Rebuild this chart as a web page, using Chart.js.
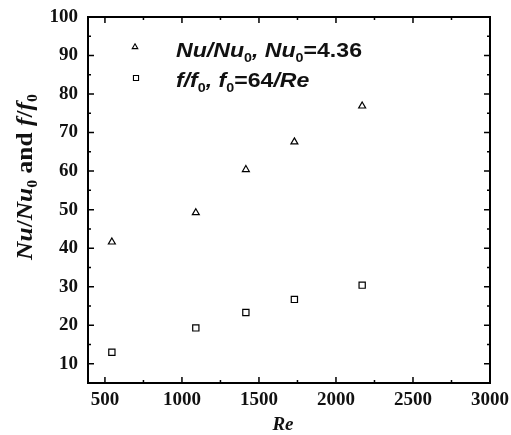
<!DOCTYPE html>
<html>
<head>
<meta charset="utf-8">
<script src="https://cdn.jsdelivr.net/npm/chart.js@4.4.1/dist/chart.umd.min.js"></script>
<style>
  body { margin: 0; background: #fff; }
  #wrap { width: 511px; height: 435px; }
</style>
</head>
<body>
<div id="wrap"><canvas id="c" width="511" height="435"></canvas></div>
<script>
// valeurs
const reValues = [545, 1090, 1415, 1730, 2170];
const nuRatio = [41.6, 49.2, 60.4, 67.6, 76.9];
const fRatio = [13.0, 19.3, 23.3, 26.7, 30.4];

const xTicks = [500, 1000, 1500, 2000, 2500, 3000];
const xMinor = [750, 1250, 1750, 2250, 2750];
const yTicks = [10, 20, 30, 40, 50, 60, 70, 80, 90, 100];
const yMinor = [5, 15, 25, 35, 45, 55, 65, 75, 85, 95];

const serif = '"Liberation Serif", "Times New Roman", serif';
const sans = '"Liberation Sans", Arial, sans-serif';

// dessine un texte composé (italique, indices...)
function richText(ctx, parts, x, y, align) {
    let total = 0;
    parts.forEach(p => { ctx.font = p.font; p.w = ctx.measureText(p.t).width; total += p.w; });
    let cx = align === 'center' ? x - total / 2 : x;
    parts.forEach(p => {
        ctx.font = p.font;
        ctx.fillText(p.t, cx, y + (p.dy || 0));
        cx += p.w;
    });
}

const framePlugin = {
    id: 'frame',
    afterDraw(chart) {
        const ctx = chart.ctx;
        const a = chart.chartArea;
        const xs = chart.scales.x, ys = chart.scales.y;
        ctx.save();
        ctx.strokeStyle = '#000';
        ctx.lineWidth = 2;
        ctx.strokeRect(a.left, a.top, a.right - a.left, a.bottom - a.top);

        // graduations vers l'intérieur, sur les 4 côtés
        ctx.lineWidth = 1.5;
        ctx.beginPath();
        const tx = (vals, len) => vals.forEach(v => {
            const px = xs.getPixelForValue(v);
            ctx.moveTo(px, a.bottom); ctx.lineTo(px, a.bottom - len);
            ctx.moveTo(px, a.top); ctx.lineTo(px, a.top + len);
        });
        const ty = (vals, len) => vals.forEach(v => {
            const py = ys.getPixelForValue(v);
            ctx.moveTo(a.left, py); ctx.lineTo(a.left + len, py);
            ctx.moveTo(a.right, py); ctx.lineTo(a.right - len, py);
        });
        tx(xTicks, 6); tx(xMinor, 3);
        ty(yTicks, 6); ty(yMinor, 3);
        ctx.stroke();

        ctx.fillStyle = '#111';
        ctx.textBaseline = 'alphabetic';

        // titre axe x
        ctx.font = 'italic bold 19px ' + serif;
        ctx.textAlign = 'center';
        ctx.fillText('Re', 283, 430);
        ctx.textAlign = 'left';

        // titre axe y (vertical, un peu étiré comme l'original)
        ctx.save();
        ctx.translate(32, 177);
        ctx.rotate(-Math.PI / 2);
        ctx.scale(1.06, 1);
        const it = 'italic bold 24px ' + serif, rg = 'bold 24px ' + serif, sb = 'bold 15px ' + serif;
        richText(ctx, [
            { t: 'Nu', font: it }, { t: '/', font: rg }, { t: 'Nu', font: it },
            { t: '0', font: sb, dy: 5 }, { t: ' and ', font: rg },
            { t: 'f', font: it }, { t: '/', font: rg }, { t: 'f', font: it },
            { t: '0', font: sb, dy: 5 }
        ], 0, 0, 'center');
        ctx.restore();

        // légende
        const li = 'italic bold 21px ' + sans, lr = 'bold 21px ' + sans, ls = 'bold 13px ' + sans;
        ctx.save();
        ctx.translate(176, 57);
        ctx.scale(1.1, 1);
        richText(ctx, [
            { t: 'Nu/Nu', font: li }, { t: '0', font: ls, dy: 5 }, { t: ', ', font: li },
            { t: 'Nu', font: li }, { t: '0', font: ls, dy: 5 }, { t: '=4.36', font: lr }
        ], 0, 0);
        richText(ctx, [
            { t: 'f/f', font: li }, { t: '0', font: ls, dy: 5 }, { t: ', ', font: li },
            { t: 'f', font: li }, { t: '0', font: ls, dy: 5 }, { t: '=64', font: lr },
            { t: '/Re', font: li }
        ], 0, 30);
        ctx.restore();

        ctx.lineWidth = 1.1;
        ctx.strokeStyle = '#000';
        ctx.fillStyle = '#fff';
        Chart.helpers.drawPoint(ctx, { pointStyle: 'triangle', radius: 3.2, rotation: 0, borderWidth: 1.1 }, 135, 47);
        Chart.helpers.drawPoint(ctx, { pointStyle: 'rect', radius: 3.6, rotation: 0, borderWidth: 1.1 }, 136, 78);
        ctx.restore();
    }
};

const tickFont = { family: serif, size: 19, weight: 'bold' };

new Chart(document.getElementById('c'), {
    type: 'scatter',
    data: {
        datasets: [{
            label: 'Nu/Nu0',
            data: reValues.map((x, i) => ({ x: x, y: nuRatio[i] })),
            pointStyle: 'triangle',
            pointRadius: 4,
            borderColor: '#000',
            backgroundColor: '#fff',
            borderWidth: 1.2
        }, {
            label: 'f/f0',
            data: reValues.map((x, i) => ({ x: x, y: fRatio[i] })),
            pointStyle: 'rect',
            pointRadius: 4.4,
            borderColor: '#000',
            backgroundColor: '#fff',
            borderWidth: 1.2
        }]
    },
    options: {
        responsive: false,
        animation: false,
        layout: { padding: { top: 17, right: 21, left: 0, bottom: 0 } },
        plugins: { legend: { display: false }, tooltip: { enabled: false } },
        scales: {
            x: {
                type: 'linear', min: 390, max: 3000,
                afterBuildTicks: s => { s.ticks = xTicks.map(v => ({ value: v })); },
                afterFit: s => { s.height = 52; s.paddingLeft = 0; s.paddingRight = 0; },
                grid: { display: false, drawTicks: false },
                border: { display: false },
                ticks: { font: tickFont, color: '#111', padding: 6, maxRotation: 0,
                         callback: v => String(v) }
            },
            y: {
                type: 'linear', min: 5, max: 100,
                afterBuildTicks: s => { s.ticks = yTicks.map(v => ({ value: v })); },
                afterFit: s => { s.width = 88; s.paddingTop = 0; s.paddingBottom = 0; },
                grid: { display: false, drawTicks: false },
                border: { display: false },
                ticks: { font: tickFont, color: '#111', padding: 10 }
            }
        }
    },
    plugins: [framePlugin]
});
</script>
</body>
</html>
